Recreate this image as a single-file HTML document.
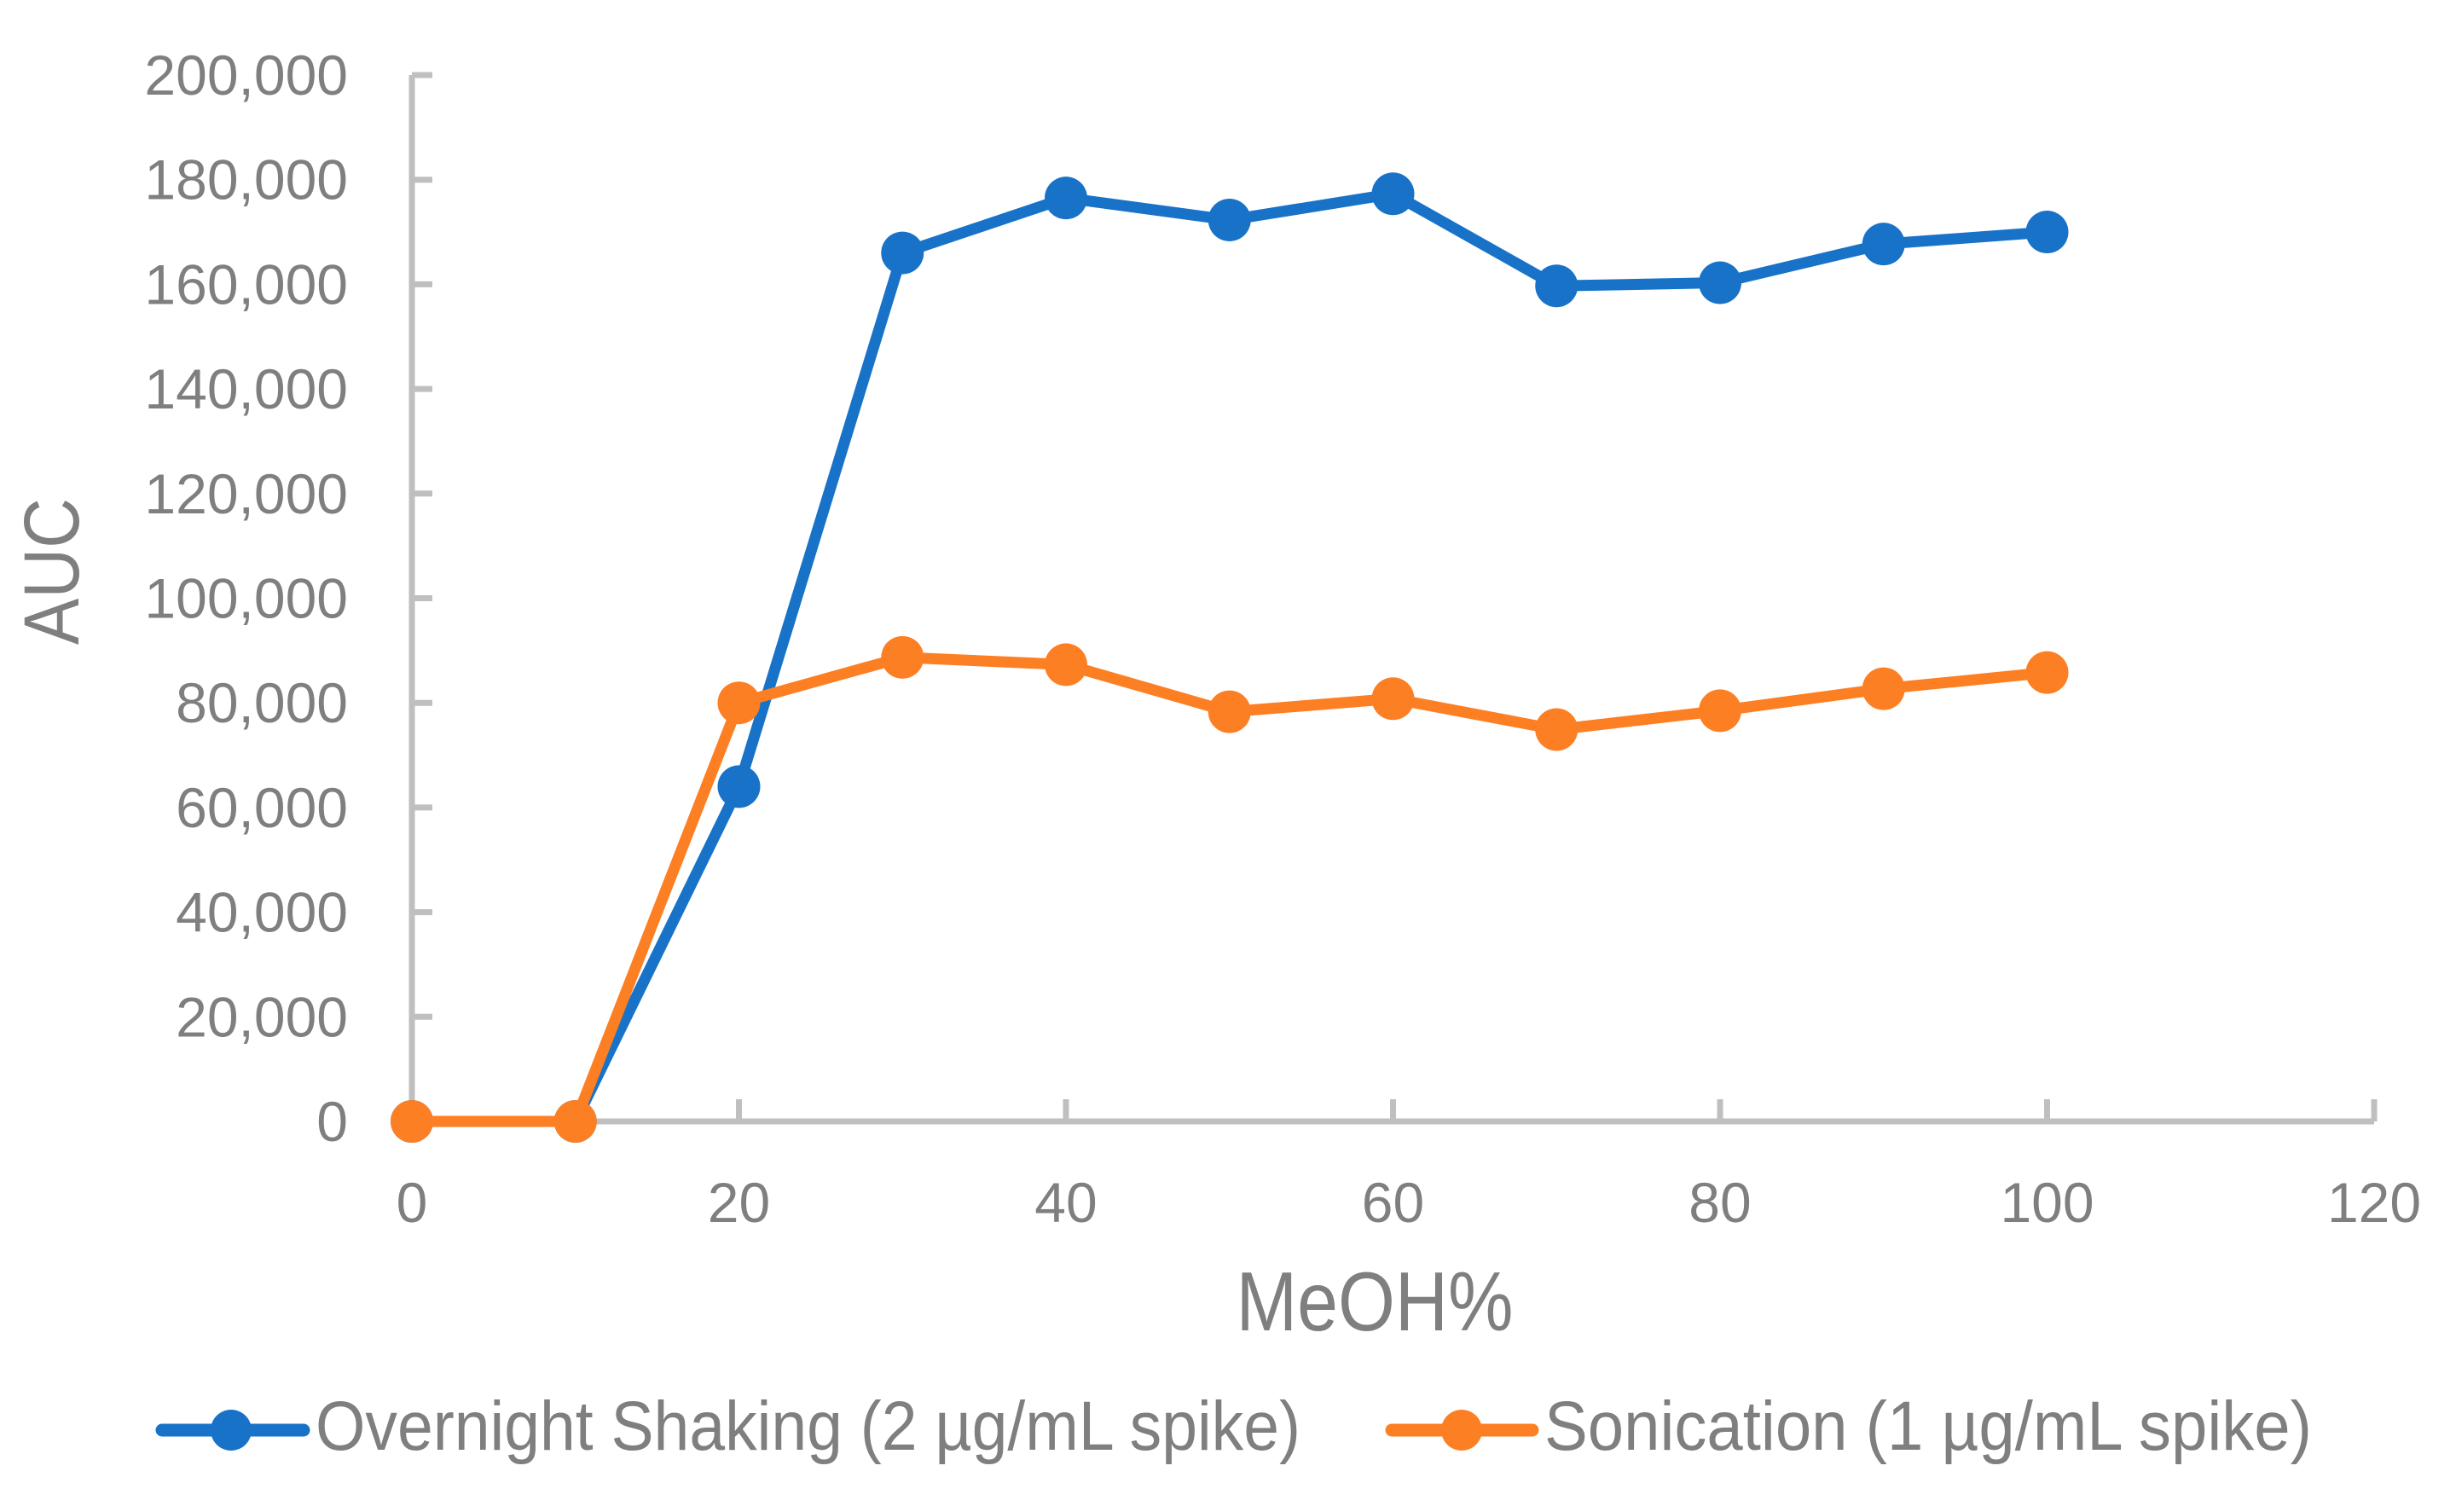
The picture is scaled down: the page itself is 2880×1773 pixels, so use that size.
<!DOCTYPE html>
<html><head><meta charset="utf-8"><style>
html,body{margin:0;padding:0;background:#fff;}
svg{display:block;font-family:"Liberation Sans",sans-serif;}
</style></head><body>
<svg id="chart" width="2880" height="1773" viewBox="0 0 2880 1773" xmlns="http://www.w3.org/2000/svg">
<g id="axes"></g>
<g id="series"></g>
<text transform="translate(92,670) rotate(-90)" text-anchor="middle" font-size="92" fill="#7f7f7f" textLength="172" lengthAdjust="spacingAndGlyphs">AUC</text>
<text x="1612" y="1560" text-anchor="middle" font-size="98" fill="#7f7f7f" textLength="325" lengthAdjust="spacingAndGlyphs">MeOH%</text>
<g>
  <g>
    <line x1="190" y1="1677" x2="356" y2="1677" stroke="#1873c8" stroke-width="15" stroke-linecap="round"/>
    <circle cx="271" cy="1677" r="24" fill="#1873c8"/>
    <text x="370" y="1700" font-size="82" fill="#7f7f7f" textLength="1155" lengthAdjust="spacingAndGlyphs">Overnight Shaking (2 µg/mL spike)</text>
  </g>
  <g>
    <line x1="1632" y1="1677" x2="1797" y2="1677" stroke="#fd7f24" stroke-width="15" stroke-linecap="round"/>
    <circle cx="1714" cy="1677" r="24" fill="#fd7f24"/>
    <text x="1811" y="1700" font-size="82" fill="#7f7f7f" textLength="900" lengthAdjust="spacingAndGlyphs">Sonication (1 µg/mL spike)</text>
  </g>
</g>
</svg>
<script>
const xValues = [0, 10, 20, 30, 40, 50, 60, 70, 80, 90, 100];
const shakingValues = [0, 0, 64000, 166000, 176500, 172300, 177300, 159700, 160300, 167700, 170000];
const sonicationValues = [0, 0, 80000, 88700, 87300, 78300, 80800, 74900, 78500, 82700, 85800];
const xTicks = [0, 20, 40, 60, 80, 100, 120];
const yTicks = [0, 20000, 40000, 60000, 80000, 100000, 120000, 140000, 160000, 180000, 200000];

const NS = "http://www.w3.org/2000/svg";
const X0 = 483, X1 = 2784, Y0 = 1315, Y1 = 88;
function xs(v){ return X0 + (v - 0) / 120 * (X1 - X0); }
function ys(v){ return Y0 - v / 200000 * (Y0 - Y1); }
function mk(tag, attrs, parent){ const e = document.createElementNS(NS, tag); for (const k in attrs) e.setAttribute(k, attrs[k]); parent.appendChild(e); return e; }

const axes = document.getElementById('axes');
const AX = '#bfbfbf';
let el = mk('line', {x1: X0, y1: Y1, x2: X0, y2: Y0, stroke: AX, 'stroke-width': 7}, axes);


el = mk('line', {x1: X0, y1: Y0, x2: X1, y2: Y0, stroke: AX, 'stroke-width': 7}, axes);



yTicks.forEach(t => {
  const y = ys(t);
  const tk = mk('line', {x1: X0, y1: y, x2: X0 + 24, y2: y, stroke: AX, 'stroke-width': 7}, axes);
  
  
  const lb = mk('text', {x: 408, y: y + 23, 'text-anchor': 'end', 'font-size': 66, fill: '#7f7f7f'}, axes);
  lb.textContent = t.toLocaleString('en-US');
  
  
});
xTicks.forEach(t => {
  const x = xs(t);
  const tk = mk('line', {x1: x, y1: Y0, x2: x, y2: Y0 - 26, stroke: AX, 'stroke-width': 7}, axes);
  
  
  const lb = mk('text', {x: x, y: 1433, 'text-anchor': 'middle', 'font-size': 66, fill: '#7f7f7f'}, axes);
  lb.textContent = String(t);
  
  
});

const series = document.getElementById('series');
function drawSeries(vals, color, name){
  const g = mk('g', {}, series);
  
  
  const pts = vals.map((v, i) => xs(xValues[i]) + ',' + ys(v)).join(' ');
  const pl = mk('polyline', {points: pts, fill: 'none', stroke: color, 'stroke-width': 13, 'stroke-linejoin': 'round', 'stroke-linecap': 'round'}, g);
  
  
  vals.forEach((v, i) => {
    const c = mk('circle', {cx: xs(xValues[i]), cy: ys(v), r: 25, fill: color}, g);
    
    
  });
}
drawSeries(shakingValues, '#1873c8', 'overnight-shaking-series');
drawSeries(sonicationValues, '#fd7f24', 'sonication-series');
</script>
</body></html>
